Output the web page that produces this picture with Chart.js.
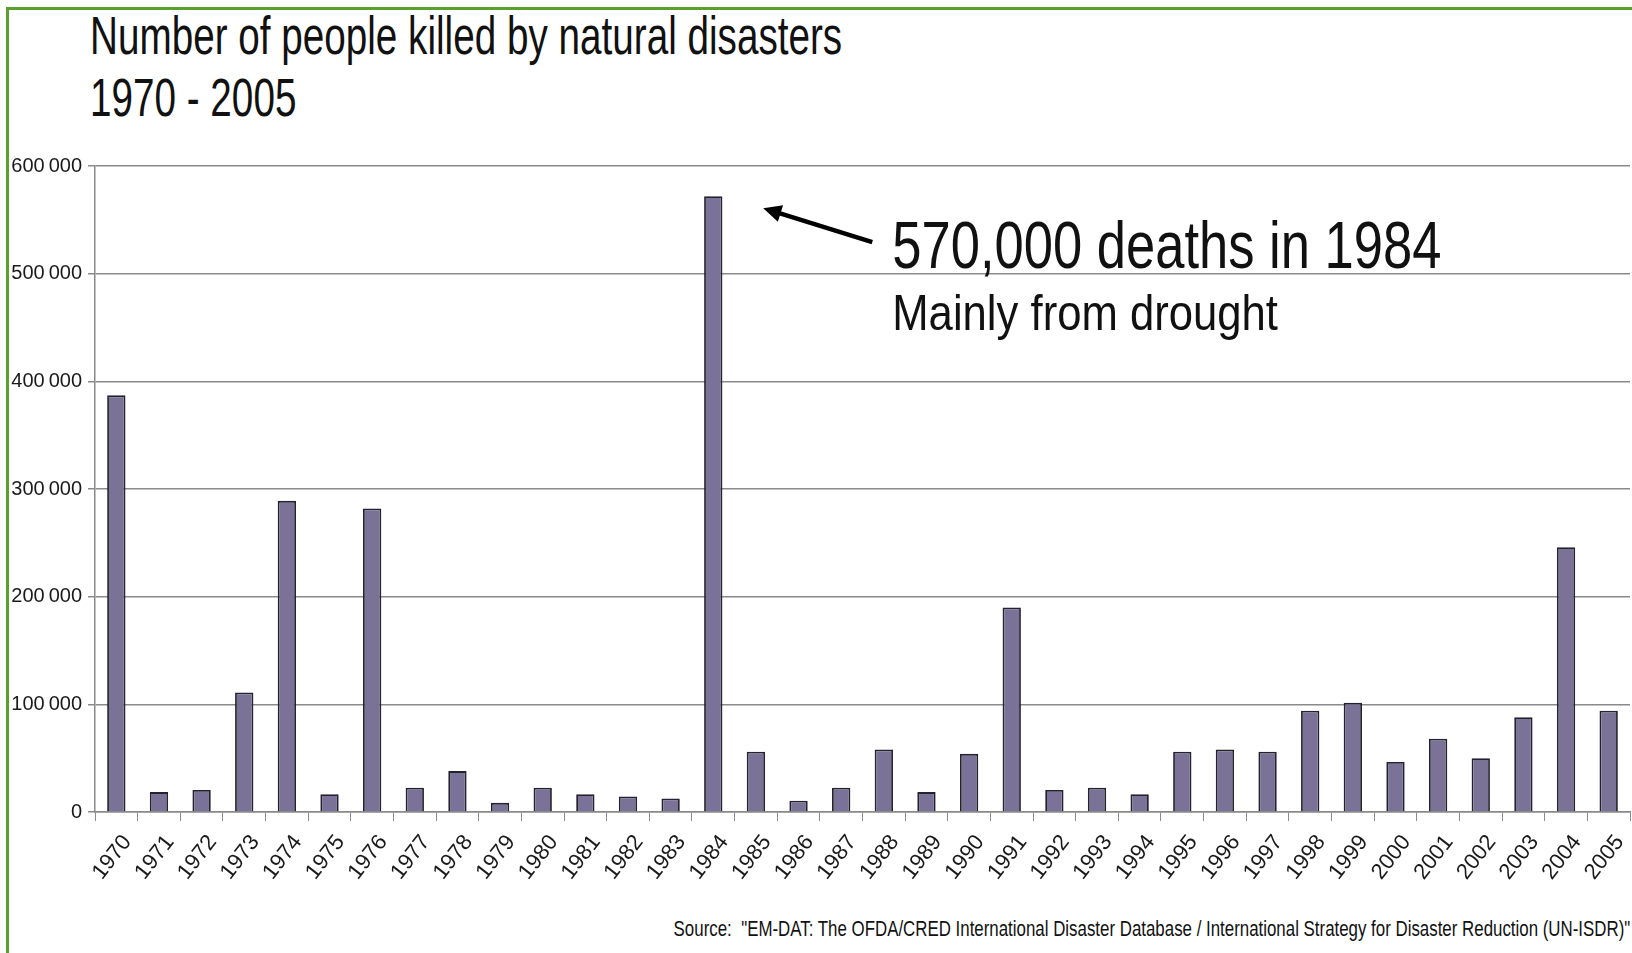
<!DOCTYPE html>
<html>
<head>
<meta charset="utf-8">
<script src="https://cdn.jsdelivr.net/npm/chart.js@4"></script>
<style>
	body { margin: 0; background: #fff; }
	#wrap { position: relative; width: 1632px; height: 953px; overflow: hidden; }
	#frame { position: absolute; left: 6px; top: 7px; width: 1640px; height: 960px; border-top: 3px solid #5aa02c; border-left: 3px solid #5aa02c; }
	#title { position: absolute; left: 90px; top: 4px; font-family: "Liberation Sans", sans-serif; font-size: 54px; line-height: 62px; color: #111; transform: scaleX(0.716); transform-origin: 0 0; white-space: nowrap; }
	#source { position: absolute; right: 2px; top: 916px; font-family: "Liberation Sans", sans-serif; font-size: 22px; color: #111; white-space: pre; transform: scaleX(0.767); transform-origin: 100% 0; }
	canvas { position: absolute; left: 0; top: 0; }
</style>
</head>
<body>
<div id="wrap">
	<div id="frame"></div>
	<div id="title">Number of people killed by natural disasters<br>1970 - 2005</div>
	<div id="source">Source:  "EM-DAT: The OFDA/CRED International Disaster Database / International Strategy for Disaster Reduction (UN-ISDR)"</div>
	<canvas id="chart" width="1632" height="953"></canvas>
</div>
<script>
const years = ["1970", "1971", "1972", "1973", "1974", "1975", "1976", "1977", "1978", "1979",
	"1980", "1981", "1982", "1983", "1984", "1985", "1986", "1987", "1988", "1989",
	"1990", "1991", "1992", "1993", "1994", "1995", "1996", "1997", "1998", "1999",
	"2000", "2001", "2002", "2003", "2004", "2005"]
const deaths = [387000, 18500, 20500, 111000, 289000, 16500, 282000, 22500, 38000, 8500,
	22500, 16500, 14500, 12500, 572000, 56000, 10500, 22500, 58000, 18500,
	54000, 190000, 20500, 22500, 16500, 56000, 58000, 56000, 94000, 101500,
	46500, 68000, 50000, 88000, 246000, 94000]
const yTicks = [0, 100000, 200000, 300000, 400000, 500000, 600000]
const noteYear = "1984"
const noteLines = ["570,000 deaths in 1984", "Mainly from drought"]

// squeeze text horizontally, the picture uses a narrow face
function narrowText(ctx, text, x, y, sx) {
	ctx.save()
	ctx.translate(x, y)
	ctx.scale(sx, 1)
	ctx.fillText(text, 0, 0)
	ctx.restore()
}

const annotation = {
	id: "annotation",
	afterDraw(chart) {
		const ctx = chart.ctx
		const x = chart.scales.x
		const y = chart.scales.y
		const barX = x.getPixelForValue(years.indexOf(noteYear))
		const topY = y.getPixelForValue(deaths[years.indexOf(noteYear)])
		const tipX = barX + 50
		const tipY = topY + 12
		const tailX = barX + 159
		const tailY = topY + 46

		ctx.save()
		ctx.strokeStyle = "#000"
		ctx.fillStyle = "#000"
		ctx.lineWidth = 4.5
		const ang = Math.atan2(tipY - tailY, tipX - tailX)
		ctx.beginPath()
		ctx.moveTo(tailX, tailY)
		ctx.lineTo(tipX - Math.cos(ang) * 10, tipY - Math.sin(ang) * 10)
		ctx.stroke()
		ctx.beginPath()
		ctx.moveTo(tipX, tipY)
		ctx.lineTo(tipX - Math.cos(ang - 0.45) * 20, tipY - Math.sin(ang - 0.45) * 20)
		ctx.lineTo(tipX - Math.cos(ang + 0.45) * 20, tipY - Math.sin(ang + 0.45) * 20)
		ctx.closePath()
		ctx.fill()

		ctx.fillStyle = "#111"
		ctx.textBaseline = "alphabetic"
		ctx.font = "66px 'Liberation Sans', sans-serif"
		narrowText(ctx, noteLines[0], barX + 179, topY + 72, 0.796)
		ctx.font = "50px 'Liberation Sans', sans-serif"
		narrowText(ctx, noteLines[1], barX + 179, topY + 134, 0.873)
		ctx.restore()
	}
}

new Chart(document.getElementById("chart"), {
	type: "bar",
	data: {
		labels: years,
		datasets: [{
			data: deaths,
			backgroundColor: "#7a7297",
			borderColor: "#24222e",
			borderWidth: 1.8,
			barPercentage: 0.43,
			categoryPercentage: 1,
		}],
	},
	options: {
		responsive: false,
		animation: false,
		devicePixelRatio: 1,
		layout: {
			padding: { top: 166, right: 2, left: 0, bottom: 0 },
		},
		plugins: {
			legend: { display: false },
			tooltip: { enabled: false },
		},
		scales: {
			x: {
				afterFit: scale => {
					scale.height = 141
					scale.paddingLeft = 0
					scale.paddingRight = 0
				},
				grid: {
					drawOnChartArea: false,
					offset: true,
					tickLength: 9,
					color: "#8a8a8a",
				},
				border: { color: "#8a8a8a", width: 1.5 },
				ticks: {
					minRotation: 52,
					maxRotation: 52,
					padding: 9,
					labelOffset: 11,
					color: "#1a1a1a",
					font: { family: "'Liberation Sans', sans-serif", size: 22 },
				},
			},
			y: {
				min: 0,
				max: 600000,
				afterFit: scale => { scale.width = 95 },
				afterBuildTicks: scale => { scale.ticks = yTicks.map(v => ({ value: v })) },
				grid: {
					color: "#8a8a8a",
					lineWidth: 1.5,
					tickLength: 7,
				},
				border: { color: "#8a8a8a", width: 1.5 },
				ticks: {
					padding: 6,
					color: "#1a1a1a",
					font: { family: "'Liberation Sans', sans-serif", size: 20 },
					callback: v => v.toLocaleString("en").replace(/,/g, "\u2009"),
				},
			},
		},
	},
	plugins: [annotation],
})
</script>
</body>
</html>
